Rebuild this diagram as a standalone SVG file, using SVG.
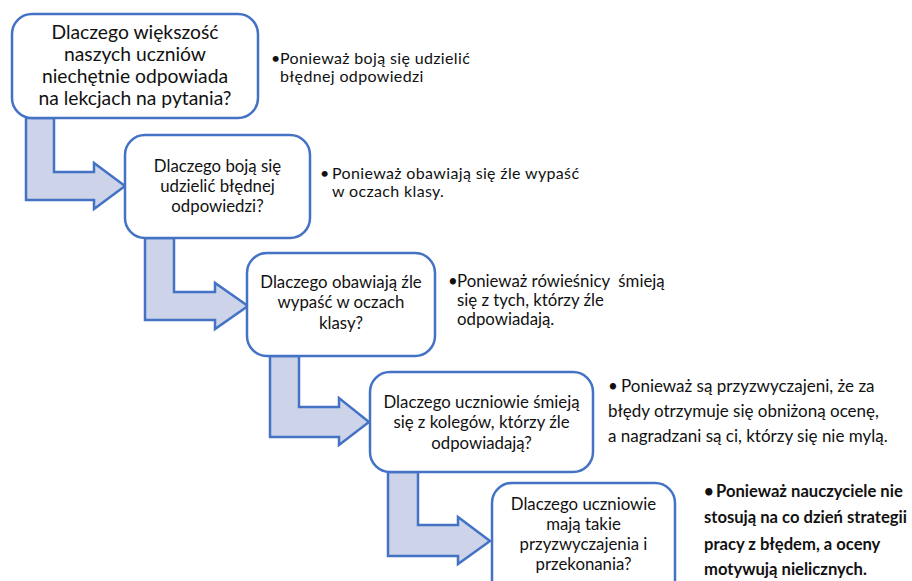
<svg xmlns="http://www.w3.org/2000/svg" width="912" height="581" viewBox="0 0 912 581">
<style>
.box{fill:#fff;stroke:#4472C4;stroke-width:2.5}
.arr{fill:#CDD4EA;stroke:#4472C4;stroke-width:2.5;stroke-linejoin:miter}
text{font-family:Lato,"Liberation Sans",sans-serif;fill:#111}
.q{text-anchor:middle;font-size:16.8px}
.q1{text-anchor:middle;font-size:19.3px}
.a{font-size:16.8px}
.s{font-size:16px;letter-spacing:0.35px}
.a4{font-size:17px}
.b{font-size:16.6px;font-weight:bold}
</style>
<rect width="912" height="581" fill="#fff"/>
<g id="connectors">
<path class="arr" d="M26,118 L54,118 L54,172 L94,172 L94,163 L125,186 L94,209 L94,200 L26,200 Z"/>
<path class="arr" d="M145,238 L174,238 L174,292 L215,292 L215,283 L248,306 L215,329 L215,320 L145,320 Z"/>
<path class="arr" d="M270,356 L299,356 L299,407 L339,407 L339,398 L369,422 L339,445 L339,437 L270,437 Z"/>
<path class="arr" d="M388,472 L418,472 L418,525 L458,525 L458,517 L490,541 L458,564 L458,556 L388,556 Z"/>
</g>
<g id="q1">
<rect class="box" x="12" y="14" width="246" height="104" rx="20"/>
<text class="q1" x="135" y="39">Dlaczego większość</text>
<text class="q1" x="135" y="61">naszych uczniów</text>
<text class="q1" x="135" y="83">niechętnie odpowiada</text>
<text class="q1" x="135" y="105">na lekcjach na pytania?</text>
</g>
<g id="q2">
<rect class="box" x="125" y="135" width="185" height="103" rx="20"/>
<text class="q" x="217.5" y="172">Dlaczego boją się</text>
<text class="q" x="217.5" y="192">udzielić błędnej</text>
<text class="q" x="217.5" y="212">odpowiedzi?</text>
</g>
<g id="q3">
<rect class="box" x="247" y="253" width="188" height="103" rx="20"/>
<text class="q" x="341" y="288">Dlaczego obawiają źle</text>
<text class="q" x="341" y="308">wypaść w oczach</text>
<text class="q" x="341" y="329">klasy?</text>
</g>
<g id="q4">
<rect class="box" x="370" y="372" width="223" height="100" rx="20"/>
<text class="q" x="481.5" y="408">Dlaczego uczniowie śmieją</text>
<text class="q" x="481.5" y="428">się z kolegów, którzy źle</text>
<text class="q" x="481.5" y="449">odpowiadają?</text>
</g>
<g id="q5">
<rect class="box" x="492" y="483" width="183" height="120" rx="20"/>
<text class="q" x="583.5" y="510">Dlaczego uczniowie</text>
<text class="q" x="583.5" y="530">mają takie</text>
<text class="q" x="583.5" y="550">przyzwyczajenia i</text>
<text class="q" x="583.5" y="570">przekonania?</text>
</g>
<g id="a1">
<text class="s" x="271" y="64">•<tspan x="280">Ponieważ boją się udzielić</tspan></text>
<text class="s" x="280" y="82">błędnej odpowiedzi</text>
</g>
<g id="a2">
<text class="s" x="320" y="179">•<tspan x="332">Ponieważ obawiają się źle wypaść</tspan></text>
<text class="s" x="332" y="197">w oczach klasy.</text>
</g>
<g id="a3">
<text class="a" x="448" y="287">•<tspan x="457" xml:space="preserve">Ponieważ rówieśnicy  śmieją</tspan></text>
<text class="a" x="457" y="306">się z tych, którzy źle</text>
<text class="a" x="457" y="325">odpowiadają.</text>
</g>
<g id="a4">
<text class="a4" x="608" y="392">•<tspan x="621">Ponieważ są przyzwyczajeni, że za</tspan></text>
<text class="a4" x="608" y="417">błędy otrzymuje się obniżoną ocenę,</text>
<text class="a4" x="608" y="442">a nagradzani są ci, którzy się nie mylą.</text>
</g>
<g id="a5">
<text class="b" x="704" y="497">•<tspan x="716">Ponieważ nauczyciele nie</tspan></text>
<text class="b" x="704" y="523">stosują na co dzień strategii</text>
<text class="b" x="704" y="550">pracy z błędem, a oceny</text>
<text class="b" x="704" y="575">motywują nielicznych.</text>
</g>
</svg>
